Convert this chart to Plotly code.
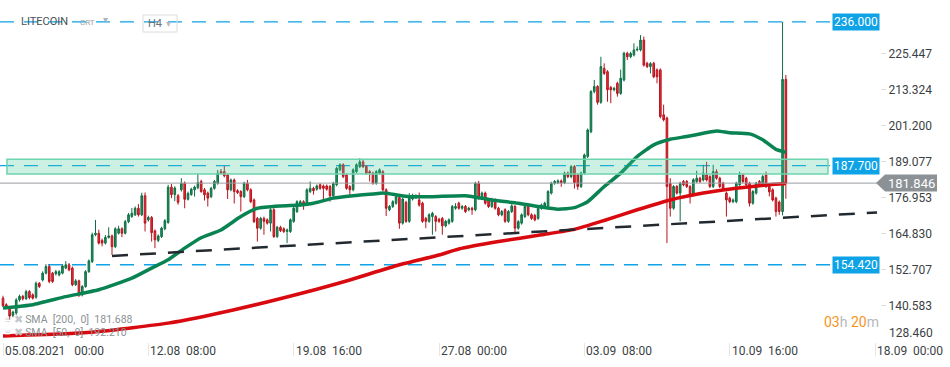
import pandas as pd
import plotly.graph_objects as go

# ---------------- data (LITECOIN, H4 candles from 05.08.2021 00:00) ----------------
opens = [
    143.2, 141.0, 139.9, 137.4, 138.2, 142.6, 143.8, 143.0, 145.4, 144.3,
    143.5, 148.2, 149.3, 151.6, 153.8, 151.6, 151.4, 151.0, 151.6, 153.3,
    154.4, 153.3, 147.7, 149.0, 144.3, 147.1, 152.1, 155.5, 164.5, 165.0,
    162.6, 161.7, 163.6, 164.1, 160.5, 165.0, 166.5, 165.0, 168.9, 170.6,
    171.2, 173.4, 171.2, 177.6, 169.5, 170.3, 165.8, 162.6, 163.9, 166.5,
    168.6, 180.5, 178.0, 177.6, 179.6, 181.8, 176.4, 178.0, 179.6, 180.3,
    182.4, 179.6, 178.5, 177.3, 180.1, 181.8, 185.7, 185.7, 184.6, 179.6,
    182.9, 179.3, 179.0, 177.3, 181.8, 179.6, 176.2, 170.0, 166.7, 170.0,
    169.5, 168.4, 172.9, 163.9, 167.0, 166.5, 165.6, 165.6, 169.0, 172.3,
    174.5, 175.6, 175.1, 179.0, 180.1, 179.8, 181.3, 180.9, 180.9, 180.7,
    177.6, 181.3, 186.3, 188.0, 184.6, 180.7, 179.6, 185.7, 187.4, 189.0,
    187.4, 185.7, 185.2, 181.8, 185.2, 185.7, 179.6, 172.9, 174.0, 175.1,
    177.0, 168.4, 175.4, 169.0, 176.5, 177.0, 176.2, 175.1, 170.0, 169.0,
    170.6, 170.6, 169.7, 170.0, 167.5, 168.4, 169.0, 173.4, 175.1, 173.4,
    174.0, 172.9, 173.4, 172.9, 181.8, 176.8, 178.5, 176.2, 174.0, 176.2,
    173.4, 171.2, 172.9, 169.0, 172.3, 174.0, 166.7, 168.4, 170.6, 174.0,
    171.2, 171.0, 170.0, 173.4, 174.0, 174.0, 178.5, 181.8, 182.0, 182.6,
    182.0, 185.2, 184.0, 187.4, 184.6, 180.7, 185.2, 190.8, 199.1, 212.6,
    214.3, 209.0, 220.4, 219.3, 214.0, 213.2, 215.4, 212.0, 216.5, 225.5,
    224.3, 224.9, 226.6, 226.6, 229.9, 222.1, 221.0, 222.1, 219.9, 219.9,
    204.8, 203.7, 181.8, 173.4, 180.7, 178.5, 182.4, 182.4, 180.7, 177.9,
    182.4, 183.5, 182.9, 184.6, 184.05, 180.7, 185.7, 183.5, 181.8, 178.5,
    176.8, 175.6, 175.6, 181.3, 184.6, 183.5, 181.8, 175.1, 178.5, 182.4,
    181.3, 184.6, 180.7, 179.6, 176.8, 175.5, 172.3, 216.7,
]
highs = [
    144.0, 141.5, 140.5, 139.0, 143.2, 144.4, 144.3, 146.0, 145.9, 144.8,
    148.8, 148.6, 152.2, 154.6, 154.4, 152.0, 152.7, 152.6, 154.6, 155.6,
    155.0, 153.8, 149.6, 149.4, 147.6, 152.6, 156.2, 165.2, 169.5, 166.2,
    163.2, 164.4, 167.0, 164.6, 167.0, 167.5, 167.0, 169.5, 171.8, 173.5,
    174.0, 174.8, 178.6, 178.7, 170.9, 170.8, 166.3, 164.6, 167.2, 169.8,
    181.3, 181.6, 180.8, 178.2, 183.5, 182.4, 179.0, 180.3, 181.0, 185.2,
    183.0, 180.2, 179.0, 180.6, 182.9, 186.3, 186.6, 187.6, 185.0, 183.4,
    183.4, 179.8, 179.5, 182.3, 182.9, 180.1, 176.7, 170.5, 170.5, 170.6,
    170.0, 173.4, 173.4, 167.5, 167.5, 167.0, 166.6, 170.0, 173.9, 176.1,
    176.2, 176.1, 180.1, 182.4, 180.6, 181.4, 181.8, 181.4, 181.4, 181.2,
    182.3, 187.3, 188.5, 188.5, 185.1, 181.2, 186.8, 188.5, 190.2, 189.8,
    187.9, 186.2, 185.7, 186.2, 186.8, 186.2, 180.1, 174.5, 176.1, 177.8,
    177.5, 177.0, 175.9, 178.5, 178.3, 178.1, 178.7, 175.6, 170.5, 171.7,
    172.2, 171.1, 170.2, 170.5, 169.5, 170.0, 174.5, 175.1, 175.6, 174.5,
    174.5, 173.9, 173.9, 182.3, 182.6, 179.0, 179.0, 176.7, 176.9, 176.7,
    173.9, 172.8, 173.4, 172.8, 174.7, 174.5, 169.4, 171.7, 174.5, 174.5,
    171.7, 171.5, 173.9, 175.0, 175.6, 179.5, 182.3, 182.9, 183.1, 183.1,
    185.7, 185.7, 187.9, 187.9, 185.1, 185.7, 191.8, 200.2, 213.1, 216.5,
    214.8, 224.3, 222.1, 219.8, 214.5, 214.2, 215.9, 220.0, 226.0, 226.0,
    226.0, 228.8, 227.8, 231.6, 231.1, 222.6, 222.5, 222.6, 220.4, 220.4,
    208.2, 204.2, 183.5, 181.2, 181.2, 182.3, 182.9, 182.9, 181.2, 183.5,
    186.0, 184.0, 188.0, 189.0, 184.5, 188.0, 186.5, 184.0, 182.3, 179.0,
    177.3, 176.7, 182.3, 185.7, 185.1, 184.0, 182.3, 179.5, 182.3, 182.9,
    184.6, 185.7, 181.2, 180.1, 177.3, 176.0, 236.0, 218.2,
]
lows = [
    140.2, 139.8, 136.0, 136.8, 137.6, 142.0, 142.4, 142.6, 142.8, 142.7,
    143.0, 146.6, 148.8, 151.2, 148.2, 148.3, 150.8, 150.5, 151.2, 152.9,
    152.2, 147.2, 147.3, 143.6, 143.8, 146.7, 151.7, 155.0, 164.0, 161.2,
    160.6, 161.2, 163.2, 157.7, 160.0, 164.6, 163.7, 164.6, 168.4, 170.2,
    170.8, 170.6, 170.8, 165.6, 168.9, 162.2, 160.0, 162.0, 163.4, 166.0,
    168.2, 176.8, 175.8, 174.6, 179.0, 173.4, 176.0, 177.6, 177.3, 179.8,
    178.6, 176.0, 174.0, 176.8, 179.6, 181.3, 184.8, 183.8, 176.5, 179.1,
    175.0, 178.2, 172.3, 176.8, 179.1, 175.1, 168.4, 162.2, 166.2, 164.5,
    167.9, 165.6, 163.4, 163.4, 165.4, 165.1, 161.7, 165.1, 168.5, 171.8,
    174.0, 172.9, 174.6, 178.5, 178.0, 179.3, 179.6, 176.2, 179.3, 175.6,
    177.1, 180.8, 185.8, 183.5, 179.6, 177.8, 179.1, 185.2, 186.9, 186.9,
    184.7, 182.4, 181.3, 181.3, 184.7, 179.1, 170.8, 172.4, 173.5, 174.6,
    166.5, 167.9, 168.5, 168.5, 176.0, 176.5, 173.9, 168.5, 166.7, 168.5,
    164.5, 165.6, 168.5, 164.5, 167.0, 167.9, 168.5, 172.9, 172.9, 172.9,
    171.8, 172.4, 171.2, 172.4, 176.3, 176.3, 174.6, 173.5, 173.5, 172.9,
    170.7, 170.7, 168.5, 168.5, 171.8, 165.0, 166.2, 167.9, 170.1, 170.7,
    169.5, 169.0, 169.5, 172.9, 173.5, 173.5, 178.0, 181.3, 181.5, 180.6,
    181.5, 183.5, 183.5, 180.0, 179.6, 180.2, 184.7, 190.3, 198.6, 212.0,
    208.2, 208.5, 218.2, 209.2, 208.7, 212.7, 210.9, 211.5, 216.0, 223.2,
    223.8, 224.4, 226.1, 226.1, 221.0, 220.5, 218.7, 217.1, 215.4, 203.6,
    202.6, 161.7, 170.6, 172.9, 178.0, 169.0, 180.8, 180.2, 175.0, 177.4,
    181.9, 181.9, 182.4, 182.4, 180.2, 180.2, 183.0, 180.2, 179.6, 170.6,
    175.1, 175.1, 175.1, 180.8, 181.9, 180.8, 174.0, 174.6, 178.0, 180.8,
    180.8, 180.2, 177.4, 175.7, 170.6, 171.2, 171.0, 176.6,
]
closes = [
    140.6, 140.4, 137.2, 138.5, 142.6, 143.8, 143.0, 145.4, 143.4, 143.2,
    148.2, 147.1, 151.6, 153.8, 148.8, 148.8, 152.1, 152.1, 154.0, 154.4,
    152.7, 147.7, 149.0, 144.3, 147.1, 152.1, 155.7, 164.5, 165.0, 161.7,
    161.7, 163.6, 164.1, 160.5, 166.5, 166.5, 165.0, 168.9, 171.2, 171.7,
    173.4, 171.2, 177.6, 168.4, 170.3, 165.2, 162.8, 164.1, 166.7, 169.2,
    180.5, 178.0, 180.2, 175.4, 181.8, 176.4, 178.4, 179.8, 180.5, 182.0,
    179.0, 177.9, 176.8, 180.1, 182.4, 185.2, 185.2, 184.3, 179.6, 182.9,
    179.0, 178.7, 177.3, 181.8, 179.6, 175.6, 168.9, 166.7, 170.0, 169.0,
    168.4, 172.9, 163.9, 167.0, 165.9, 165.6, 166.1, 169.5, 173.4, 175.6,
    175.6, 174.5, 179.6, 180.1, 179.3, 180.9, 180.1, 180.1, 179.8, 177.6,
    181.8, 186.8, 188.0, 184.05, 180.1, 179.6, 186.3, 188.0, 189.0, 187.4,
    185.2, 185.2, 181.8, 185.7, 186.3, 179.6, 173.4, 174.0, 175.6, 177.3,
    168.4, 176.5, 169.0, 177.0, 177.8, 177.6, 174.5, 169.0, 169.0, 171.2,
    171.7, 169.0, 169.0, 167.5, 169.0, 169.5, 174.0, 174.0, 173.4, 174.0,
    172.3, 173.4, 172.9, 181.8, 176.8, 178.5, 175.1, 174.0, 176.4, 173.4,
    171.2, 172.3, 169.0, 172.3, 174.2, 166.7, 168.9, 171.2, 174.0, 171.2,
    170.0, 169.5, 173.4, 174.5, 175.1, 179.0, 181.8, 182.4, 182.6, 182.0,
    185.2, 184.0, 187.4, 182.0, 180.7, 185.2, 191.3, 199.7, 212.6, 214.3,
    209.0, 221.0, 218.7, 213.2, 213.2, 213.7, 212.0, 217.1, 225.5, 224.3,
    225.4, 226.6, 226.8, 229.9, 221.5, 221.0, 222.0, 217.6, 217.6, 204.2,
    203.1, 180.7, 173.4, 180.7, 178.5, 181.8, 181.3, 180.7, 177.9, 183.0,
    183.5, 182.4, 185.2, 182.9, 180.7, 185.7, 183.5, 180.7, 180.1, 176.2,
    175.6, 176.2, 181.8, 184.6, 182.4, 181.3, 175.1, 179.0, 181.8, 181.3,
    184.05, 180.7, 178.9, 176.2, 172.3, 172.3, 216.7, 181.846,
]

# moving averages at these candle numbers
sma50_idx = [0, 9, 19, 29, 39, 45, 50, 55, 60, 66, 72, 77, 84, 90, 94, 100, 106, 112,
             115, 118, 123, 130, 140, 148, 156, 163, 168, 173, 177, 182, 187, 192, 197,
             202, 207, 212, 216, 220, 226, 230, 234, 237]
sma50 = [139.9, 141.0, 143.7, 146.0, 149.9, 153.3, 156.1, 160.0, 163.5, 166.1, 170.6,
         173.4, 174.2, 174.5, 175.1, 176.8, 177.6, 178.2, 178.5, 178.1, 177.3, 177.3,
         177.6, 176.2, 175.1, 173.8, 173.1, 173.6, 175.6, 180.7, 185.2, 190.8, 194.7,
         196.6, 197.5, 198.6, 199.4, 198.8, 198.4, 196.4, 193.2, 192.2]
sma200_idx = [0, 19, 29, 50, 70, 95, 105, 120, 132, 138, 150, 163, 173, 182, 192,
              202, 212, 222, 232, 237]
sma200 = [130.5, 131.2, 132.0, 134.8, 139.3, 146.2, 149.3, 154.4, 157.7, 159.7, 162.2,
          164.5, 166.3, 169.3, 172.9, 176.2, 178.5, 180.1, 181.3, 181.7]

trend_times = ["2021-08-10 12:00", "2021-09-18 02:24"]
trend_prices = [157.4, 172.0]

level_values = [236.000, 187.700, 154.420]
level_labels = ["236.000", "187.700", "154.420"]
zone_prices = [184.95, 189.90]
zone_times = ["2021-08-05 04:48", "2021-09-15 15:00"]
last_price = 181.846
last_label = "181.846"

ytick_vals = [140.583, 152.707, 164.830, 176.953, 189.077, 201.200, 213.324, 225.447]
ytick_text = ["140.583", "152.707", "164.830", "176.953", "189.077", "201.200", "213.324", "225.447"]
ybottom_val, ybottom_text = 128.460, "128.460"

xtick_times = ["2021-08-05 00:00", "2021-08-12 08:00", "2021-08-19 16:00", "2021-08-27 00:00",
               "2021-09-03 08:00", "2021-09-10 16:00", "2021-09-18 00:00"]
xtick_text = ["05.08.2021\u00a0\u00a0 00:00", "12.08\u00a0\u00a008:00", "19.08\u00a0\u00a016:00",
              "27.08\u00a0\u00a000:00", "03.09\u00a0\u00a008:00", "10.09\u00a0\u00a016:00",
              "18.09\u00a0\u00a000:00"]

x_range = ["2021-08-04 20:22", "2021-09-18 06:00"]
y_range = [128.46, 243.38]

sma_legend = ["SMA\u00a0\u00a0[200,\u00a0\u00a00]\u00a0\u00a0181.688", "SMA\u00a0\u00a0[50,\u00a0\u00a00]\u00a0\u00a0192.210"]

# ---------------- figure ----------------
W, H = 950, 367
ML, MR, MT, MB = 0, 70, 0, 25
PW = W - ML - MR
PH = H - MT - MB
def px(p):
    return p / PW
units_per_px = (y_range[1] - y_range[0]) / PH

times = pd.date_range("2021-08-05 00:00", periods=len(closes), freq="4h")
assert len(opens) == len(highs) == len(lows) == len(closes)

BLUE = "#0ea2e6"
FONT = "Roboto"

fig = go.Figure()
fig.add_trace(go.Candlestick(
    x=times, open=opens, high=highs, low=lows, close=closes,
    increasing=dict(line=dict(color="#0f6e45", width=1), fillcolor="#1f9460"),
    decreasing=dict(line=dict(color="#b8141d", width=1), fillcolor="#e3313a"),
    whiskerwidth=0, hoverinfo="skip",
))
fig.add_trace(go.Scatter(
    x=[times[i] for i in sma200_idx], y=sma200, mode="lines",
    line=dict(color="#d8090f", width=3.5, shape="spline", smoothing=0.5), hoverinfo="skip"))
fig.add_trace(go.Scatter(
    x=[times[i] for i in sma50_idx], y=sma50, mode="lines",
    line=dict(color="#0a8353", width=3.5, shape="spline", smoothing=0.5), hoverinfo="skip"))
fig.add_trace(go.Scatter(
    x=trend_times, y=trend_prices, mode="lines",
    line=dict(color="#222a30", width=2.5, dash="16px,12px"), hoverinfo="skip"))

shapes = []
# horizontal dashed levels
for v in level_values:
    shapes.append(dict(type="line", xref="paper", yref="y", x0=0, x1=px(833), y0=v, y1=v,
                       line=dict(color=BLUE, width=1.3, dash="14px,10px"), layer="below"))
# current price line
shapes.append(dict(type="line", xref="paper", yref="y", x0=0, x1=px(877), y0=last_price, y1=last_price,
                   line=dict(color="#9a9ea2", width=1), layer="above"))
# zone rectangle
shapes.append(dict(type="rect", xref="x", yref="y", x0=zone_times[0], x1=zone_times[1],
                   y0=zone_prices[0], y1=zone_prices[1],
                   fillcolor="rgba(72,205,155,0.28)", line=dict(color="#6dd4ae", width=1.5),
                   layer="above"))
# grey price tag with pointer
hh = 8.5 * units_per_px
tip, bl, br = px(876), px(885), px(937)
shapes.append(dict(type="path", xref="paper", yref="y",
                   path=f"M {tip} {last_price} L {bl} {last_price + hh} L {br} {last_price + hh} "
                        f"L {br} {last_price - hh} L {bl} {last_price - hh} Z",
                   fillcolor="#8c9196", line=dict(width=0), layer="above"))
# H4 box
shapes.append(dict(type="rect", xref="paper", yref="paper", x0=px(143), x1=px(177),
                   y0=1 - 32 / PH, y1=1 - 15 / PH, line=dict(color="#dcdcdc", width=1),
                   fillcolor="rgba(255,255,255,0)", layer="above"))

ann = []
for v, t in zip(level_values, level_labels):
    ann.append(dict(xref="paper", yref="y", x=px(880.5), y=v, xanchor="right", yanchor="middle",
                    text=t, showarrow=False, bgcolor=BLUE, borderpad=1,
                    font=dict(family=FONT, size=12, color="white")))
ann.append(dict(xref="paper", yref="y", x=px(911), y=last_price, xanchor="center", yanchor="middle",
                text=last_label, showarrow=False, font=dict(family=FONT, size=13, color="white")))
ann.append(dict(xref="paper", yref="y", x=1, y=ybottom_val, xanchor="left", yanchor="bottom",
                xshift=7, text=ybottom_text, showarrow=False,
                font=dict(family=FONT, size=12, color="#3a3f44")))
for t, s in zip(xtick_times, xtick_text):
    ann.append(dict(xref="x", yref="paper", x=t, y=0, xanchor="left", yanchor="top", xshift=0,
                    text=s, showarrow=False, font=dict(family=FONT, size=12, color="#3a3f44")))
# header
ann.append(dict(xref="paper", yref="y", x=px(19), y=level_values[0], xanchor="left", yanchor="middle",
                text="LITECOIN", showarrow=False, font=dict(family=FONT, size=11, color="#4b5157")))
ann.append(dict(xref="paper", yref="y", x=px(78), y=level_values[0], xanchor="left", yanchor="middle",
                yshift=-1, text="CRT", showarrow=False, font=dict(family=FONT, size=8, color="#a0a4a8")))
ann.append(dict(xref="paper", yref="y", x=px(101), y=level_values[0], xanchor="left", yanchor="middle",
                yshift=2, text="\u25be", showarrow=False, font=dict(family="DejaVu Sans", size=10, color="#b0b4b8")))
ann.append(dict(xref="paper", yref="paper", x=px(146), y=1 - 23.5 / PH, xanchor="left", yanchor="middle",
                text="H4", showarrow=False, font=dict(family=FONT, size=11, color="#6b7177")))
ann.append(dict(xref="paper", yref="paper", x=px(164), y=1 - 23 / PH, xanchor="left", yanchor="middle",
                text="\u25be", showarrow=False, font=dict(family="DejaVu Sans", size=10, color="#b8bcc0")))
# SMA legend
for i, t in enumerate(sma_legend):
    ann.append(dict(xref="paper", yref="paper", x=px(3), y=(PH - 319 - 13.5 * i) / PH,
                    xanchor="left", yanchor="middle",
                    text="<span style='color:#c4c8cc'>\u2261\u00a0\u2716</span>\u00a0" + t,
                    showarrow=False, font=dict(family=FONT, size=10.5, color="#8d9296")))
# countdown
ann.append(dict(xref="paper", yref="paper", x=px(881), y=(PH - 322) / PH, xanchor="right", yanchor="middle",
                text="<span style='color:#f7941d'>03</span><span style='color:#b5b9bd'>h</span> "
                     "<span style='color:#f7941d'>20</span><span style='color:#b5b9bd'>m</span>",
                showarrow=False, font=dict(family=FONT, size=14)))

fig.update_layout(
    width=W, height=H, margin=dict(l=ML, r=MR, t=MT, b=MB, pad=0),
    paper_bgcolor="white", plot_bgcolor="white", showlegend=False,
    font=dict(family=FONT, size=12, color="#3a3f44"),
    shapes=shapes, annotations=ann,
    xaxis=dict(type="date", range=x_range, rangeslider=dict(visible=False), showgrid=False,
               zeroline=False, showline=False, tickvals=xtick_times, showticklabels=False,
               ticks="outside", ticklen=13, tickcolor="#e6e6e6", tickwidth=1),
    yaxis=dict(side="right", range=y_range, showgrid=False, zeroline=False, showline=False,
               tickvals=ytick_vals, ticktext=ytick_text, ticks="outside", ticklen=5,
               tickcolor="#dddddd", tickfont=dict(family=FONT, size=12, color="#3a3f44")),
)

fig.write_html("out.html", config={"displayModeBar": False},
               post_script="document.body.style.margin='0';")
